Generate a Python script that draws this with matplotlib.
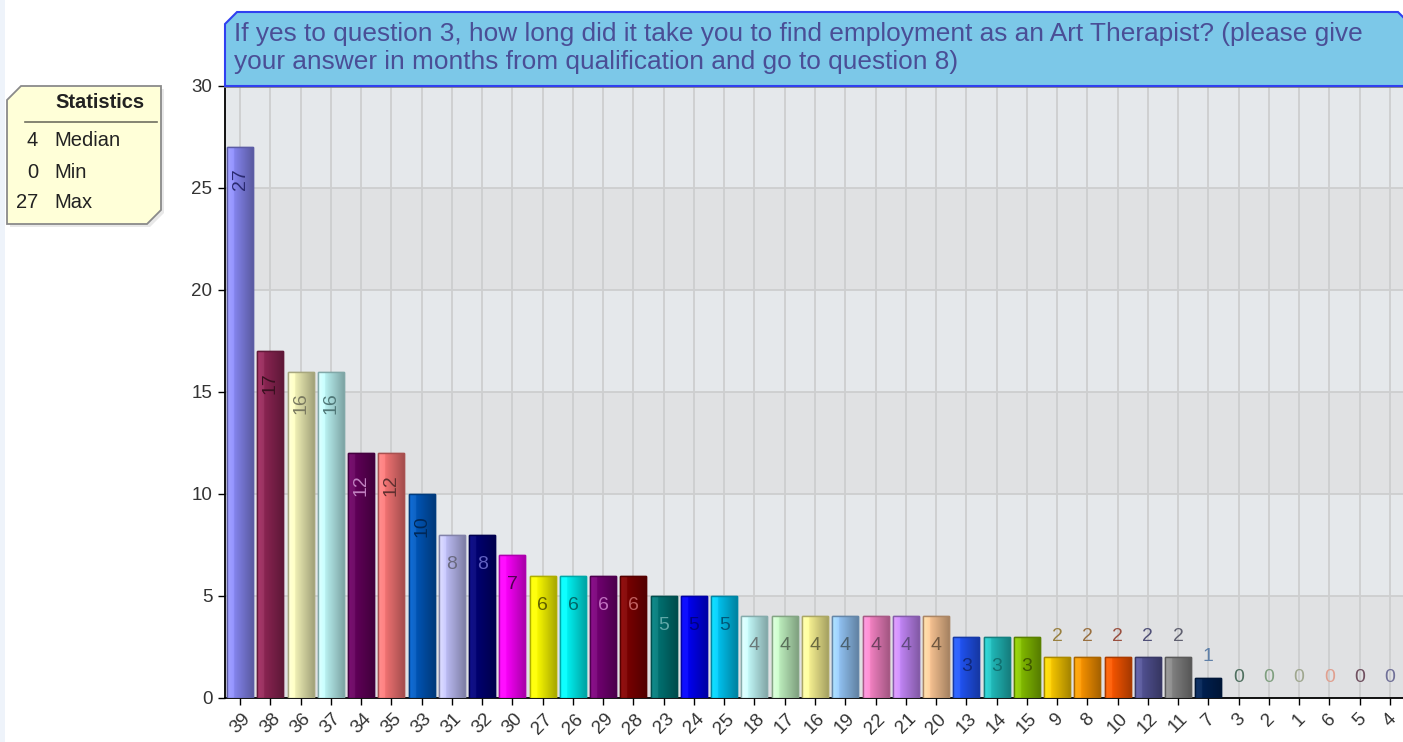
import matplotlib
matplotlib.use("Agg")
import matplotlib.pyplot as plt
import numpy as np
from matplotlib.patches import Polygon, Rectangle
from matplotlib.colors import to_rgb

plt.rcParams['font.family'] = ['Liberation Sans', 'DejaVu Sans']

# ---------------- data ----------------
categories = ["39", "38", "36", "37", "34", "35", "33", "31", "32", "30", "27", "26", "29", "28",
              "23", "24", "25", "18", "17", "16", "19", "22", "21", "20", "13", "14", "15",
              "9", "8", "10", "12", "11", "7", "3", "2", "1", "6", "5", "4"]
values = [27, 17, 16, 16, 12, 12, 10, 8, 8, 7, 6, 6, 6, 6,
          5, 5, 5, 4, 4, 4, 4, 4, 4, 4, 3, 3, 3,
          2, 2, 2, 2, 2, 1, 0, 0, 0, 0, 0, 0]
bar_colors = ["#8484ec", "#8a2452", "#eeeeb4", "#b8f0f0", "#600058", "#f07272", "#0054b4",
              "#babaf2", "#000070", "#f800f8", "#f8f800", "#00f0f0", "#700070", "#780000",
              "#007070", "#0000f0", "#00c0ec", "#c0f6f6", "#bcecbc", "#f4ee90", "#90c0f0",
              "#f080c0", "#c084f4", "#f4c090", "#2052f0", "#20b8b8", "#80b800",
              "#f4c400", "#f49000", "#f45400", "#505090", "#808080", "#002050",
              "#808080", "#808080", "#808080", "#808080", "#808080", "#808080"]
label_colors = ["#2a2a70", "#3a1020", "#7a7a60", "#507878", "#c080c0", "#603030", "#002858",
                "#6a6a80", "#6060c0", "#500050", "#606000", "#006868", "#c070c0", "#c06060",
                "#60a8a8", "#000080", "#005878", "#6a7878", "#5a705a", "#6a6a40", "#4a6070",
                "#704060", "#604a80", "#705840", "#10287a", "#107070", "#405800",
                "#9a8040", "#9a7040", "#9a5040", "#505078", "#606070", "#6080a8",
                "#507060", "#80a080", "#a0a890", "#e0a090", "#705060", "#707098"]
title = ("If yes to question 3, how long did it take you to find employment as an Art Therapist? (please give\n"
         "your answer in months from qualification and go to question 8)")
stat_values = ["4", "0", "27"]
stat_names = ["Median", "Min", "Max"]
y_ticks = [0, 5, 10, 15, 20, 25, 30]

# ---------------- figure ----------------
W, H = 1403, 742
fig = plt.figure(figsize=(W / 100, H / 100), dpi=100)
fig.patch.set_facecolor("white")

def fx(px):
    return px / W

def fy(py):
    return 1 - py / H

# left light strip
fig.patches.append(Rectangle((0, 0), fx(5), 1, transform=fig.transFigure,
                             facecolor="#eef3fa", edgecolor="none", zorder=0))

ax_left, ax_right, ax_top, ax_bottom = 225, 1405, 86, 698
ax = fig.add_axes([fx(ax_left), fy(ax_bottom), fx(ax_right - ax_left), fy(ax_top) - fy(ax_bottom)])
n = len(values)
x = np.arange(n)
ax.set_xlim(-0.5, n - 0.5)
ax.set_ylim(0, 30)
ax.set_facecolor("#e5e8eb")
for lo in range(0, 30, 10):
    ax.axhspan(lo, lo + 5, color="#e0e1e3", zorder=0, lw=0)

ax.set_xticks(x)
ax.set_xticklabels(categories, rotation=45, ha="center", va="top", fontsize=13.5, color="#333333")
ax.set_yticks(y_ticks)
ax.set_yticklabels([str(t) for t in y_ticks], fontsize=13.5, color="#333333")
ax.tick_params(axis="both", direction="out", length=5, width=1, color="black")
ax.tick_params(axis="x", pad=4)
ax.tick_params(axis="y", pad=4)
ax.grid(True, color="#cdcecf", lw=1.3, zorder=1)
ax.set_axisbelow(True)
ax.spines["right"].set_visible(False)
ax.spines["top"].set_color("#808080")
ax.spines["top"].set_linewidth(2)
ax.spines["left"].set_color("black")
ax.spines["bottom"].set_color("black")
ax.spines["left"].set_linewidth(1.3)
ax.spines["bottom"].set_linewidth(1.3)

bw = 0.86
bars = ax.bar(x, values, width=bw, color=bar_colors, zorder=3)
tgrad = np.linspace(0, 1, 64)
shade = 1.12 - 0.45 * tgrad
shade[:4] = np.linspace(0.95, 1.12, 4)
for b, c, v in zip(bars, bar_colors, values):
    if v <= 0:
        b.set_visible(False)
        continue
    rgb = np.array(to_rgb(c))
    grad = np.clip(rgb[None, :] * shade[:, None] + (shade[:, None] > 1) * 0.06, 0, 1)
    img = ax.imshow(grad[None, :, :], extent=(b.get_x(), b.get_x() + b.get_width(), 0, v),
                    aspect="auto", zorder=3.5, interpolation="bilinear")
    img.set_clip_path(b)
    b.set_edgecolor(tuple(rgb * 0.7))
    b.set_linewidth(1.0)
    ax.bar(b.get_x() + b.get_width() / 2, v, width=bw, facecolor="none",
           edgecolor=tuple(rgb * 0.7), linewidth=1.0, zorder=4)

for xi, v, lc in zip(x, values, label_colors):
    if v >= 3:
        rot = 90 if v >= 10 else 0
        ax.annotate(str(v), (xi, v), xytext=(0, -21), textcoords="offset pixels",
                    ha="center", va="top", rotation=rot, fontsize=14, color=lc, zorder=5)
    else:
        ax.annotate(str(v), (xi, v), xytext=(0, 21), textcoords="offset pixels",
                    ha="center", va="center", fontsize=14, color=lc, zorder=5)

# ---------------- title box ----------------
c = 12
tx0, tx1, ty0, ty1 = 225, 1410, 12, 86
title_poly = Polygon([(fx(tx0), fy(ty1)), (fx(tx0), fy(ty0 + c)), (fx(tx0 + c), fy(ty0)),
                      (fx(tx1 - c), fy(ty0)), (fx(tx1), fy(ty0 + c)), (fx(tx1), fy(ty1))],
                     closed=True, transform=fig.transFigure, facecolor="#7cc8e8",
                     edgecolor="#3040f0", linewidth=1.5, zorder=2)
fig.patches.append(title_poly)
fig.text(fx(234), fy(22), title, ha="left", va="top", fontsize=18.9, color="#4a4e96",
         linespacing=1.22, zorder=3)

# ---------------- statistics box ----------------
sx0, sx1, sy0, sy1, cc = 7, 161, 86, 224, 14
shadow = Polygon([(fx(sx0 + 3), fy(sy0 + cc + 3)), (fx(sx0 + cc + 3), fy(sy0 + 3)), (fx(sx1 + 3), fy(sy0 + 3)),
                  (fx(sx1 + 3), fy(sy1 - cc + 3)), (fx(sx1 - cc + 3), fy(sy1 + 3)), (fx(sx0 + 3), fy(sy1 + 3))],
                 closed=True, transform=fig.transFigure, facecolor="#e8e8e8", edgecolor="none", zorder=1)
fig.patches.append(shadow)
stat_poly = Polygon([(fx(sx0), fy(sy0 + cc)), (fx(sx0 + cc), fy(sy0)), (fx(sx1), fy(sy0)),
                     (fx(sx1), fy(sy1 - cc)), (fx(sx1 - cc), fy(sy1)), (fx(sx0), fy(sy1))],
                    closed=True, transform=fig.transFigure, facecolor="#ffffd8",
                    edgecolor="#8a8a8a", linewidth=1.3, zorder=2)
fig.patches.append(stat_poly)
fig.text(fx(100), fy(103), "Statistics", ha="center", va="center", fontsize=14.5,
         fontweight="bold", color="#222222", zorder=3)
fig.lines.append(plt.Line2D([fx(25), fx(157)], [fy(122), fy(122)], transform=fig.transFigure,
                            color="#707060", lw=1.2, zorder=3))
for i, (sv, sn) in enumerate(zip(stat_values, stat_names)):
    yy = 141 + i * 31
    fig.text(fx(38), fy(yy), sv, ha="right", va="center", fontsize=14.5, color="#222222", zorder=3)
    fig.text(fx(54), fy(yy), sn, ha="left", va="center", fontsize=14.5, color="#222222", zorder=3)

fig.savefig("out.png", dpi=100)
